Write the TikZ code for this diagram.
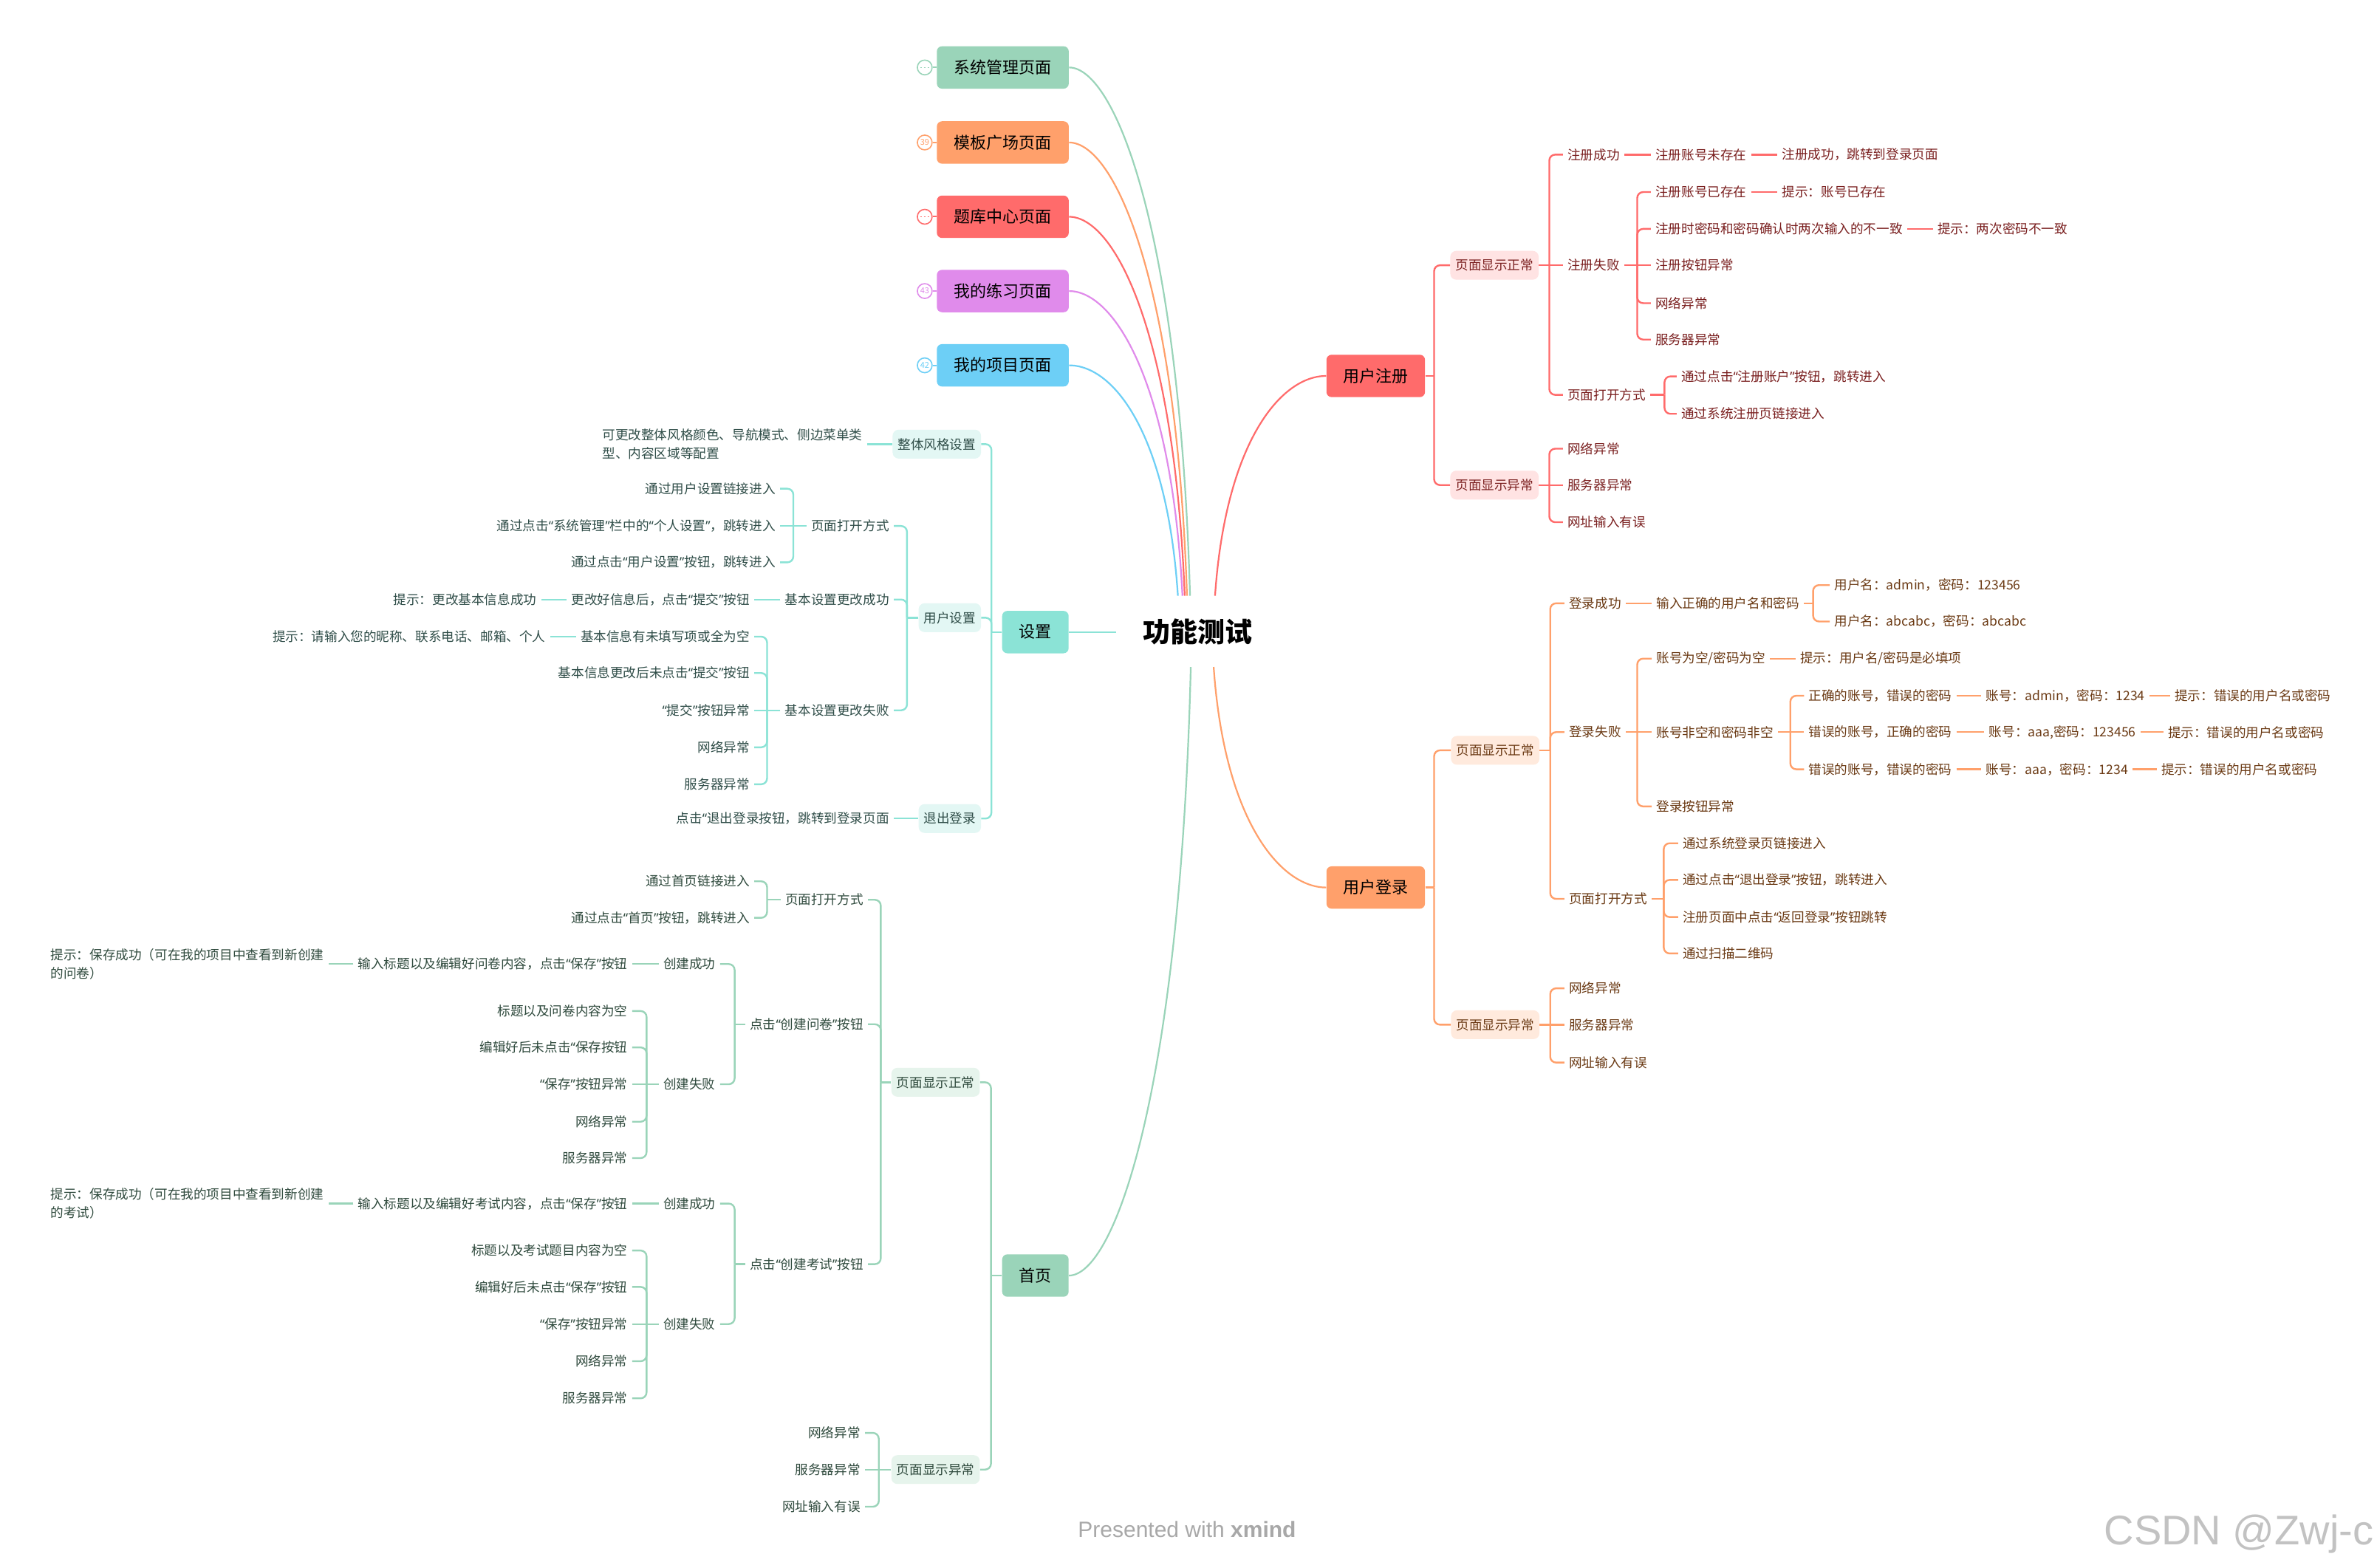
\documentclass[tikz,border=0pt]{standalone}
\usepackage{fontspec}
\setmainfont{Noto Sans CJK SC}
\newfontfamily\lsans{Liberation Sans}
\newfontfamily\qfont{Noto Sans}
\newcommand\qa{{\qfont “}}
\newcommand\qb{{\qfont ”}}
\definecolor{cG}{HTML}{9AD4B9}
\definecolor{cO}{HTML}{FFA06B}
\definecolor{cR}{HTML}{FF6B6B}
\definecolor{cV}{HTML}{E08BEB}
\definecolor{cB}{HTML}{6DCFF6}
\definecolor{cT}{HTML}{8BE3D6}
\definecolor{tR}{HTML}{7A1F1F}
\definecolor{tO}{HTML}{6B3A14}
\definecolor{tT}{HTML}{2F4D48}
\definecolor{tG}{HTML}{2F4A3D}
\definecolor{fR}{HTML}{FFE3E3}
\definecolor{fO}{HTML}{FFEADD}
\definecolor{fT}{HTML}{E3F7F4}
\definecolor{fG}{HTML}{E6F4EC}
\definecolor{wmc}{HTML}{A8A8A8}
\definecolor{csdn}{HTML}{C2C2C2}
\begin{document}
\begin{tikzpicture}[x=1.0262pt, y=-1.0262pt,
  fs/.style={font=\fontsize{8.8}{12.4}\selectfont},
  tx/.style={fs, inner xsep=3pt, inner ysep=1.5pt},
  rw/.style={tx, anchor=west},
  le/.style={tx, anchor=east},
  R/.style={text=tR}, O/.style={text=tO}, T/.style={text=tT}, G/.style={text=tG},
  lv/.style={fs, rounded corners=4pt, minimum height=19.5pt, inner xsep=3.5pt},
  mainbox/.style={rounded corners=3.5pt, minimum height=28.7pt, minimum width=#1, inner xsep=0pt, font=\fontsize{11}{13}\selectfont, text=black},
  mk/.style={circle, draw=#1, fill=white, line width=0.8pt, minimum size=10pt, inner sep=0pt, text=#1, font=\fontsize{5.5}{6}\selectfont},
  lnR/.style={draw=cR, line width=1.2pt, rounded corners=4pt},
  lnO/.style={draw=cO, line width=1.2pt, rounded corners=4pt},
  lnT/.style={draw=cT, line width=1.2pt, rounded corners=4pt},
  lnG/.style={draw=cG, line width=1.2pt, rounded corners=4pt},
  cv/.style={line width=1.1pt}
]
\useasboundingbox (0,0) rectangle (1568,1034);
\fill[white] (0,0) rectangle (1568,1034);

% ---------- root ----------
\node[font=\fontsize{18.5}{20}\selectfont\bfseries, text=black, inner sep=0pt] (root) at (790,417) {功能测试};
\coordinate (s1) at (785,393);
\coordinate (s2) at (783,393);
\coordinate (s3) at (781.5,393);
\coordinate (s4) at (780,393);
\coordinate (s5) at (777,393);
\coordinate (s6) at (801.5,393);
\coordinate (s7) at (800.6,440);
\coordinate (s8) at (785.5,440);

% ---------- collapsed branches ----------
\node[mainbox=89.3pt, fill=cG] (m1) at (661.5,44.5) {系统管理页面};
\node[mainbox=89.3pt, fill=cO] (m2) at (661.5,94) {模板广场页面};
\node[mainbox=89.3pt, fill=cR] (m3) at (661.5,143) {题库中心页面};
\node[mainbox=89.3pt, fill=cV] (m4) at (661.5,192) {我的练习页面};
\node[mainbox=89.3pt, fill=cB] (m5) at (661.5,241) {我的项目页面};
\node[mk=cG] (k1) at (610,44.5) {};
\node[mk=cO] (k2) at (610,94) {39};
\node[mk=cR] (k3) at (610,143) {};
\node[mk=cV] (k4) at (610,192) {43};
\node[mk=cB] (k5) at (610,241) {42};
\draw[cG, line width=0.5pt, dash pattern=on 1.2pt off 1.2pt] ([xshift=-3pt]k1.center) -- ([xshift=3pt]k1.center);
\draw[cR, line width=0.5pt, dash pattern=on 1.2pt off 1.2pt] ([xshift=-3pt]k3.center) -- ([xshift=3pt]k3.center);
\draw[cG, line width=1pt] (k1) -- (m1);
\draw[cO, line width=1pt] (k2) -- (m2);
\draw[cR, line width=1pt] (k3) -- (m3);
\draw[cV, line width=1pt] (k4) -- (m4);
\draw[cB, line width=1pt] (k5) -- (m5);
\draw[cv, cG] (m1.east) .. controls (735,44.5) and (778,149.4) .. (s1);
\draw[cv, cO] (m2.east) .. controls (735,94) and (776,183.7) .. (s2);
\draw[cv, cR] (m3.east) .. controls (735,143) and (774.5,218) .. (s3);
\draw[cv, cV] (m4.east) .. controls (735,192) and (773,252.3) .. (s4);
\draw[cv, cB] (m5.east) .. controls (735,241) and (770,286.6) .. (s5);

% ---------- main branches ----------
\node[mainbox=66.7pt, fill=cR] (rA) at (907.5,248) {用户注册};
\node[mainbox=66.7pt, fill=cO] (oA) at (907.5,585.5) {用户登录};
\node[mainbox=45pt, fill=cT] (tA) at (683,417) {设置};
\node[mainbox=45pt, fill=cG] (gA) at (683,841.5) {首页};
\draw[cv, cR] (s6) .. controls (808.5,291.5) and (845,248) .. (rA.west);
\draw[cv, cO] (s7) .. controls (807.6,541.9) and (845,585.5) .. (oA.west);
\draw[cv, cG] (s8) .. controls (778.5,721) and (735,841.5) .. (gA.east);
\draw[lnT] (tA.east) -- ([xshift=-18pt]root.west);

% ---------- 用户注册 ----------
\node[lv, fill=fR, R, anchor=west] (rB1) at (956.5,175) {页面显示正常};
\node[lv, fill=fR, R, anchor=west] (rB2) at (956.5,320) {页面显示异常};
\node[rw, R] (rC1) at (1031,102) {注册成功};
\node[rw, R] (rC2) at (1031,175) {注册失败};
\node[rw, R] (rC3) at (1031,260.5) {页面打开方式};
\node[rw, R] (rD1) at (1089,102) {注册账号未存在};
\node[rw, R] (rE1) at (1172.5,102) {注册成功，跳转到登录页面};
\node[rw, R] (rD2) at (1089,126.7) {注册账号已存在};
\node[rw, R] (rE2) at (1172.5,126.7) {提示：账号已存在};
\node[rw, R] (rD3) at (1089,151) {注册时密码和密码确认时两次输入的不一致};
\node[rw, R] (rE3) at (1275,151) {提示：两次密码不一致};
\node[rw, R] (rD4) at (1089,175) {注册按钮异常};
\node[rw, R] (rD5) at (1089,200) {网络异常};
\node[rw, R] (rD6) at (1089,224) {服务器异常};
\node[rw, R] (rD7) at (1106,248.3) {通过点击\qa{}注册账户\qb{}按钮，跳转进入};
\node[rw, R] (rD8) at (1106,273) {通过系统注册页链接进入};
\node[rw, R] (rC4) at (1031,296) {网络异常};
\node[rw, R] (rC5) at (1031,320) {服务器异常};
\node[rw, R] (rC6) at (1031,344.5) {网址输入有误};
\coordinate (jA) at (946,248);
\coordinate (jB1) at (1022,175);
\coordinate (jC2) at (1080,175);
\coordinate (jC3) at (1098,260.5);
\coordinate (jB2) at (1022,320);
\draw[lnR] (rA.east) -- (jA);
\draw[lnR] (jA) |- (rB1.west);
\draw[lnR] (jA) |- (rB2.west);
\draw[lnR] (rB1.east) -- (rC2.west);
\draw[lnR] (jB1) |- (rC1.west);
\draw[lnR] (jB1) |- (rC3.west);
\draw[lnR] (rC1.east) -- (rD1.west);
\draw[lnR] (rD1.east) -- (rE1.west);
\draw[lnR] (rC2.east) -- (rD4.west);
\draw[lnR] (jC2) |- (rD2.west);
\draw[lnR] (jC2) |- (rD3.west);
\draw[lnR] (jC2) |- (rD5.west);
\draw[lnR] (jC2) |- (rD6.west);
\draw[lnR] (rD2.east) -- (rE2.west);
\draw[lnR] (rD3.east) -- (rE3.west);
\draw[lnR] (rC3.east) -- (jC3);
\draw[lnR] (jC3) |- (rD7.west);
\draw[lnR] (jC3) |- (rD8.west);
\draw[lnR] (rB2.east) -- (rC5.west);
\draw[lnR] (jB2) |- (rC4.west);
\draw[lnR] (jB2) |- (rC6.west);

% ---------- 用户登录 ----------
\node[lv, fill=fO, O, anchor=west] (oB1) at (957,495) {页面显示正常};
\node[lv, fill=fO, O, anchor=west] (oB2) at (957,676) {页面显示异常};
\node[rw, O] (oC1) at (1032,398) {登录成功};
\node[rw, O] (oC2) at (1032,483) {登录失败};
\node[rw, O] (oC3) at (1032,593) {页面打开方式};
\node[rw, O] (oD1) at (1089.5,398) {输入正确的用户名和密码};
\node[rw, O] (oE1) at (1207,386) {用户名：admin，密码：123456};
\node[rw, O] (oE2) at (1207,410) {用户名：abcabc，密码：abcabc};
\node[rw, O] (oD2) at (1089.5,434.5) {账号为空/密码为空};
\node[rw, O] (oE3) at (1184.5,434.5) {提示：用户名/密码是必填项};
\node[rw, O] (oD3) at (1089.5,483) {账号非空和密码非空};
\node[rw, O] (oD4) at (1089.5,532) {登录按钮异常};
\node[rw, O] (oE4) at (1190,459) {正确的账号，错误的密码};
\node[rw, O] (oF1) at (1307,459) {账号：admin，密码：1234};
\node[rw, O] (oG1) at (1431.5,459) {提示：错误的用户名或密码};
\node[rw, O] (oE5) at (1190,483) {错误的账号，正确的密码};
\node[rw, O] (oF2) at (1309,483) {账号：aaa,密码：123456};
\node[rw, O] (oG2) at (1427,483) {提示：错误的用户名或密码};
\node[rw, O] (oE6) at (1190,507.5) {错误的账号，错误的密码};
\node[rw, O] (oF3) at (1307,507.5) {账号：aaa，密码：1234};
\node[rw, O] (oG3) at (1422.6,507.5) {提示：错误的用户名或密码};
\node[rw, O] (oD5) at (1107,556.3) {通过系统登录页链接进入};
\node[rw, O] (oD6) at (1107,580.5) {通过点击\qa{}退出登录\qb{}按钮，跳转进入};
\node[rw, O] (oD7) at (1107,605) {注册页面中点击\qa{}返回登录\qb{}按钮跳转};
\node[rw, O] (oD8) at (1107,629) {通过扫描二维码};
\node[rw, O] (oC4) at (1032,652) {网络异常};
\node[rw, O] (oC5) at (1032,676) {服务器异常};
\node[rw, O] (oC6) at (1032,701) {网址输入有误};
\coordinate (jAo) at (946,585.5);
\coordinate (jB3) at (1022.6,495);
\coordinate (jD1) at (1196,398);
\coordinate (jC2o) at (1080,483);
\coordinate (jD3) at (1181,483);
\coordinate (jC3o) at (1097.5,593);
\coordinate (jB4) at (1022.6,676);
\draw[lnO] (oA.east) -- (jAo);
\draw[lnO] (jAo) |- (oB1.west);
\draw[lnO] (jAo) |- (oB2.west);
\draw[lnO] (oB1.east) -- (jB3);
\draw[lnO] (jB3) |- (oC1.west);
\draw[lnO] (jB3) |- (oC2.west);
\draw[lnO] (jB3) |- (oC3.west);
\draw[lnO] (oC1.east) -- (oD1.west);
\draw[lnO] (oD1.east) -- (jD1);
\draw[lnO] (jD1) |- (oE1.west);
\draw[lnO] (jD1) |- (oE2.west);
\draw[lnO] (oC2.east) -- (oD3.west);
\draw[lnO] (jC2o) |- (oD2.west);
\draw[lnO] (jC2o) |- (oD4.west);
\draw[lnO] (oD2.east) -- (oE3.west);
\draw[lnO] (oD3.east) -- (oE5.west);
\draw[lnO] (jD3) |- (oE4.west);
\draw[lnO] (jD3) |- (oE6.west);
\draw[lnO] (oE4.east) -- (oF1.west);
\draw[lnO] (oF1.east) -- (oG1.west);
\draw[lnO] (oE5.east) -- (oF2.west);
\draw[lnO] (oF2.east) -- (oG2.west);
\draw[lnO] (oE6.east) -- (oF3.west);
\draw[lnO] (oF3.east) -- (oG3.west);
\draw[lnO] (oC3.east) -- (jC3o);
\draw[lnO] (jC3o) |- (oD5.west);
\draw[lnO] (jC3o) |- (oD6.west);
\draw[lnO] (jC3o) |- (oD7.west);
\draw[lnO] (jC3o) |- (oD8.west);
\draw[lnO] (oB2.east) -- (oC5.west);
\draw[lnO] (jB4) |- (oC4.west);
\draw[lnO] (jB4) |- (oC6.west);

% ---------- 设置 ----------
\node[lv, fill=fT, T, anchor=east] (tB1) at (647.3,293) {整体风格设置};
\node[lv, fill=fT, T, anchor=east] (tB2) at (647.3,407.5) {用户设置};
\node[lv, fill=fT, T, anchor=east] (tB3) at (647.3,540) {退出登录};
\node[le, T, align=left] (tC1) at (572,293) {可更改整体风格颜色、导航模式、侧边菜单类\\型、内容区域等配置};
\node[le, T] (tC2) at (589.6,347) {页面打开方式};
\node[le, T] (tD1) at (514.6,322.4) {通过用户设置链接进入};
\node[le, T] (tD2) at (514.6,347) {通过点击\qa{}系统管理\qb{}栏中的\qa{}个人设置\qb{}，跳转进入};
\node[le, T] (tD3) at (514.6,371) {通过点击\qa{}用户设置\qb{}按钮，跳转进入};
\node[le, T] (tC3) at (589.6,395.5) {基本设置更改成功};
\node[le, T] (tD4) at (497.6,395.5) {更改好信息后，点击\qa{}提交\qb{}按钮};
\node[le, T] (tE1) at (357,395.5) {提示：更改基本信息成功};
\node[le, T] (tC4) at (589.6,468.6) {基本设置更改失败};
\node[le, T] (tD5) at (497.6,420) {基本信息有未填写项或全为空};
\node[le, T] (tE2) at (363,420) {提示：请输入您的昵称、联系电话、邮箱、个人};
\node[le, T] (tD6) at (497.6,444) {基本信息更改后未点击\qa{}提交\qb{}按钮};
\node[le, T] (tD7) at (497.6,468.6) {\qa{}提交\qb{}按钮异常};
\node[le, T] (tD8) at (497.6,493) {网络异常};
\node[le, T] (tD9) at (497.6,517.4) {服务器异常};
\node[le, T] (tC5) at (589.6,540) {点击\qa{}退出登录按钮，跳转到登录页面};
\coordinate (jT) at (654,417);
\coordinate (jT2) at (598.3,407.5);
\coordinate (jT3) at (523.3,347);
\coordinate (jT4) at (506,468.6);
\draw[lnT] (tA.west) -- (jT);
\draw[lnT] (jT) |- (tB1.east);
\draw[lnT] (jT) |- (tB2.east);
\draw[lnT] (jT) |- (tB3.east);
\draw[lnT] (tC1.east) -- (tB1.west);
\draw[lnT] (tB2.west) -- (jT2);
\draw[lnT] (jT2) |- (tC2.east);
\draw[lnT] (jT2) |- (tC3.east);
\draw[lnT] (jT2) |- (tC4.east);
\draw[lnT] (tC2.west) -- (tD2.east);
\draw[lnT] (jT3) |- (tD1.east);
\draw[lnT] (jT3) |- (tD3.east);
\draw[lnT] (tC3.west) -- (tD4.east);
\draw[lnT] (tD4.west) -- (tE1.east);
\draw[lnT] (tC4.west) -- (tD7.east);
\draw[lnT] (jT4) |- (tD5.east);
\draw[lnT] (jT4) |- (tD6.east);
\draw[lnT] (jT4) |- (tD8.east);
\draw[lnT] (jT4) |- (tD9.east);
\draw[lnT] (tD5.west) -- (tE2.east);
\draw[lnT] (tC5.east) -- (tB3.west);

% ---------- 首页 ----------
\node[lv, fill=fG, G, anchor=east] (gB1) at (646.5,714) {页面显示正常};
\node[lv, fill=fG, G, anchor=east] (gB2) at (646.5,969.5) {页面显示异常};
\node[le, G] (gC1) at (572.6,593.6) {页面打开方式};
\node[le, G] (gD1) at (497.6,581.4) {通过首页链接进入};
\node[le, G] (gD2) at (497.6,605.5) {通过点击\qa{}首页\qb{}按钮，跳转进入};
\node[le, G] (gC2) at (572.6,675.7) {点击\qa{}创建问卷\qb{}按钮};
\node[le, G] (gD3) at (475,636) {创建成功};
\node[le, G] (gE1) at (417,636) {输入标题以及编辑好问卷内容，点击\qa{}保存\qb{}按钮};
\node[le, G, align=left] (gF1) at (216.7,636) {提示：保存成功（可在我的项目中查看到新创建\\的问卷）};
\node[le, G] (gD4) at (475,715.3) {创建失败};
\node[le, G] (gE2) at (417,667) {标题以及问卷内容为空};
\node[le, G] (gE3) at (417,691) {编辑好后未点击\qa{}保存按钮};
\node[le, G] (gE4) at (417,715.3) {\qa{}保存\qb{}按钮异常};
\node[le, G] (gE5) at (417,740) {网络异常};
\node[le, G] (gE6) at (417,764) {服务器异常};
\node[le, G] (gC3) at (572.6,834) {点击\qa{}创建考试\qb{}按钮};
\node[le, G] (gD5) at (475,794) {创建成功};
\node[le, G] (gE7) at (417,794) {输入标题以及编辑好考试内容，点击\qa{}保存\qb{}按钮};
\node[le, G, align=left] (gF2) at (216.7,794) {提示：保存成功（可在我的项目中查看到新创建\\的考试）};
\node[le, G] (gD6) at (475,873.5) {创建失败};
\node[le, G] (gE8) at (417,825) {标题以及考试题目内容为空};
\node[le, G] (gE9) at (417,849) {编辑好后未点击\qa{}保存\qb{}按钮};
\node[le, G] (gE10) at (417,873.5) {\qa{}保存\qb{}按钮异常};
\node[le, G] (gE11) at (417,898) {网络异常};
\node[le, G] (gE12) at (417,922.5) {服务器异常};
\node[le, G] (gC4) at (570.6,945.3) {网络异常};
\node[le, G] (gC5) at (570.6,969.5) {服务器异常};
\node[le, G] (gC6) at (570.6,994) {网址输入有误};
\coordinate (jG) at (653.7,841.5);
\coordinate (jG2) at (581,714);
\coordinate (jG3) at (506,593.6);
\coordinate (jG4) at (484.6,675.7);
\coordinate (jG5) at (426.5,715.3);
\coordinate (jG6) at (484.6,834);
\coordinate (jG7) at (426.5,873.5);
\coordinate (jG8) at (579.7,969.5);
\draw[lnG] (gA.west) -- (jG);
\draw[lnG] (jG) |- (gB1.east);
\draw[lnG] (jG) |- (gB2.east);
\draw[lnG] (gB1.west) -- (jG2);
\draw[lnG] (jG2) |- (gC1.east);
\draw[lnG] (jG2) |- (gC2.east);
\draw[lnG] (jG2) |- (gC3.east);
\draw[lnG] (gC1.west) -- (jG3);
\draw[lnG] (jG3) |- (gD1.east);
\draw[lnG] (jG3) |- (gD2.east);
\draw[lnG] (gC2.west) -- (jG4);
\draw[lnG] (jG4) |- (gD3.east);
\draw[lnG] (jG4) |- (gD4.east);
\draw[lnG] (gD3.west) -- (gE1.east);
\draw[lnG] (gE1.west) -- (gF1.east);
\draw[lnG] (gD4.west) -- (gE4.east);
\draw[lnG] (jG5) |- (gE2.east);
\draw[lnG] (jG5) |- (gE3.east);
\draw[lnG] (jG5) |- (gE5.east);
\draw[lnG] (jG5) |- (gE6.east);
\draw[lnG] (gC3.west) -- (jG6);
\draw[lnG] (jG6) |- (gD5.east);
\draw[lnG] (jG6) |- (gD6.east);
\draw[lnG] (gD5.west) -- (gE7.east);
\draw[lnG] (gE7.west) -- (gF2.east);
\draw[lnG] (gD6.west) -- (gE10.east);
\draw[lnG] (jG7) |- (gE8.east);
\draw[lnG] (jG7) |- (gE9.east);
\draw[lnG] (jG7) |- (gE11.east);
\draw[lnG] (jG7) |- (gE12.east);
\draw[lnG] (gB2.west) -- (gC5.east);
\draw[lnG] (jG8) |- (gC4.east);
\draw[lnG] (jG8) |- (gC6.east);

% ---------- watermarks ----------
\node[font=\lsans\fontsize{15}{16}\selectfont, text=wmc] (wm) at (783,1009) {Presented with \textbf{xmind}};
\node[font=\lsans\fontsize{28}{30}\selectfont, text=csdn, anchor=base east, inner sep=0pt] (cs) at (1566,1019) {CSDN @Zwj-c};
\end{tikzpicture}
\end{document}
